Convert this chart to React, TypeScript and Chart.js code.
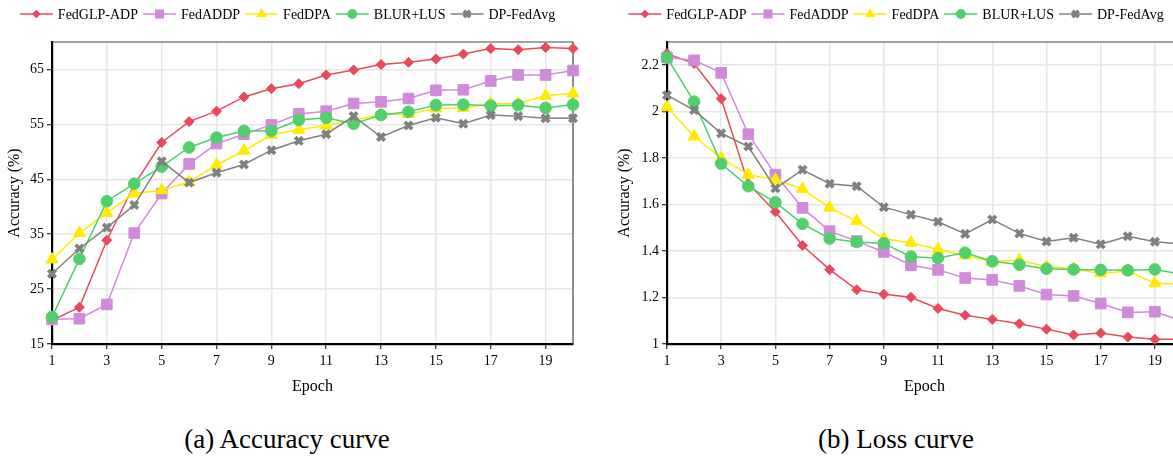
import React, { useEffect, useRef } from 'react';
import { Chart, registerables } from 'chart.js';

Chart.register(...registerables);

const FONT = '"Liberation Serif", "Times New Roman", serif';
Chart.defaults.font.family = FONT;

const epochs = [1, 2, 3, 4, 5, 6, 7, 8, 9, 10, 11, 12, 13, 14, 15, 16, 17, 18, 19, 20];
const xTickValues = [1, 3, 5, 7, 9, 11, 13, 15, 17, 19];
const accTickValues = [15, 25, 35, 45, 55, 65];
const lossTickValues = [1, 1.2, 1.4, 1.6, 1.8, 2, 2.2];

const seriesNames = ['FedGLP-ADP', 'FedADDP', 'FedDPA', 'BLUR+LUS', 'DP-FedAvg'];

// Accuracy (%)
const accFedGLP = [19.3, 21.7, 33.9, 44.0, 51.7, 55.5, 57.4, 60.0, 61.5, 62.4, 64.0, 64.9, 65.9, 66.3, 66.9, 67.8, 68.8, 68.6, 69.0, 68.8];
const accFedADDP = [19.5, 19.6, 22.2, 35.2, 42.4, 47.8, 51.5, 53.2, 54.9, 56.9, 57.4, 58.8, 59.1, 59.7, 61.2, 61.3, 62.9, 64.0, 64.0, 64.8];
const accFedDPA = [30.4, 35.2, 38.9, 42.4, 43.0, 44.5, 47.6, 50.2, 53.1, 54.0, 54.8, 55.8, 56.8, 56.9, 57.9, 58.0, 58.8, 58.8, 60.2, 60.6];
const accBLUR = [19.9, 30.5, 41.0, 44.2, 47.3, 50.8, 52.6, 53.8, 53.8, 55.8, 56.2, 55.1, 56.7, 57.3, 58.5, 58.6, 58.4, 58.5, 58.0, 58.6];
const accDPFedAvg = [27.8, 32.4, 36.2, 40.3, 48.3, 44.4, 46.2, 47.7, 50.3, 52.0, 53.2, 56.5, 52.7, 54.8, 56.2, 55.1, 56.7, 56.5, 56.1, 56.1];

// Loss
const lossFedGLP = [2.25, 2.207, 2.056, 1.69, 1.569, 1.424, 1.32, 1.234, 1.214, 1.201, 1.153, 1.124, 1.106, 1.087, 1.064, 1.039, 1.047, 1.03, 1.02, 1.02];
const lossFedADDP = [2.233, 2.221, 2.167, 1.903, 1.729, 1.586, 1.486, 1.443, 1.396, 1.339, 1.319, 1.284, 1.276, 1.25, 1.213, 1.207, 1.174, 1.136, 1.139, 1.1];
const lossFedDPA = [2.019, 1.893, 1.8, 1.729, 1.707, 1.667, 1.587, 1.529, 1.453, 1.436, 1.407, 1.381, 1.354, 1.361, 1.333, 1.324, 1.304, 1.314, 1.261, 1.257];
const lossBLUR = [2.233, 2.043, 1.776, 1.679, 1.61, 1.517, 1.454, 1.439, 1.433, 1.376, 1.37, 1.393, 1.356, 1.341, 1.324, 1.321, 1.319, 1.317, 1.321, 1.3];
const lossDPFedAvg = [2.071, 2.007, 1.907, 1.85, 1.67, 1.75, 1.69, 1.679, 1.589, 1.557, 1.526, 1.474, 1.536, 1.476, 1.441, 1.457, 1.429, 1.464, 1.44, 1.43];

const accSeries = [accFedGLP, accFedADDP, accFedDPA, accBLUR, accDPFedAvg];
const lossSeries = [lossFedGLP, lossFedADDP, lossFedDPA, lossBLUR, lossDPFedAvg];

const colors = ['#E8495C', '#D18ADB', '#FFEA00', '#4FD06A', '#808080'];
const pointStyles = ['rectRot', 'rect', 'triangle', 'circle', 'crossRot'];
const pointRadii = [5, 7.5, 7, 5.8, 5.2];
const pointBorderWidths = [1, 1, 1, 1, 3.8];

function drawMarker(ctx: CanvasRenderingContext2D, style: string, x: number, y: number, r: number, color: string, bw: number) {
  ctx.save();
  ctx.fillStyle = color;
  ctx.strokeStyle = color;
  ctx.lineWidth = bw;
  ctx.beginPath();
  if (style === 'rectRot') {
    ctx.moveTo(x, y - r);
    ctx.lineTo(x + r, y);
    ctx.lineTo(x, y + r);
    ctx.lineTo(x - r, y);
    ctx.closePath();
    ctx.fill();
  } else if (style === 'rect') {
    const s = r * Math.SQRT1_2;
    ctx.rect(x - s, y - s, 2 * s, 2 * s);
    ctx.fill();
  } else if (style === 'triangle') {
    for (let k = 0; k < 3; k++) {
      const a = (k * 2 * Math.PI) / 3;
      const px = x + Math.sin(a) * r;
      const py = y - Math.cos(a) * r;
      if (k === 0) ctx.moveTo(px, py);
      else ctx.lineTo(px, py);
    }
    ctx.closePath();
    ctx.fill();
  } else if (style === 'circle') {
    ctx.arc(x, y, r, 0, Math.PI * 2);
    ctx.fill();
  } else if (style === 'crossRot') {
    const d = r * Math.SQRT1_2;
    ctx.moveTo(x - d, y - d);
    ctx.lineTo(x + d, y + d);
    ctx.moveTo(x + d, y - d);
    ctx.lineTo(x - d, y + d);
    ctx.stroke();
  }
  ctx.restore();
}

const legendPlugin = {
  id: 'customLegend',
  afterDraw(chart: any, _args: any, opts: any) {
    const ctx = chart.ctx as CanvasRenderingContext2D;
    ctx.save();
    ctx.font = `14px ${FONT}`;
    ctx.textBaseline = 'middle';
    ctx.textAlign = 'left';
    const lineLen = 33;
    const gapLT = 5;
    const gapItem = 5;
    const widths = seriesNames.map((n) => ctx.measureText(n).width);
    const total = widths.reduce((a, w) => a + lineLen + gapLT + w, 0) + gapItem * (seriesNames.length - 1);
    let x = opts.cx - total / 2;
    const y = 14;
    seriesNames.forEach((name, i) => {
      ctx.strokeStyle = colors[i];
      ctx.lineWidth = 1.5;
      ctx.beginPath();
      ctx.moveTo(x, y);
      ctx.lineTo(x + lineLen, y);
      ctx.stroke();
      drawMarker(ctx, pointStyles[i], x + lineLen / 2, y, pointRadii[i] * 0.85, colors[i], pointBorderWidths[i]);
      ctx.fillStyle = '#000';
      ctx.fillText(name, x + lineLen + gapLT, y + 1);
      x += lineLen + gapLT + widths[i] + gapItem;
    });
    ctx.restore();
  },
};

const framePlugin = {
  id: 'frame',
  beforeDatasetsDraw(chart: any) {
    const { ctx, chartArea } = chart;
    ctx.save();
    ctx.strokeStyle = '#444';
    ctx.lineWidth = 1.2;
    ctx.beginPath();
    ctx.moveTo(chartArea.left, chartArea.top);
    ctx.lineTo(chartArea.right, chartArea.top);
    ctx.lineTo(chartArea.right, chartArea.bottom);
    ctx.stroke();
    ctx.restore();
  },
};

type Cfg = {
  series: number[][];
  yMin: number;
  yMax: number;
  yTicks: number[];
  legendCx: number;
  yAxisWidth: number;
  padRight: number;
};

function makeConfig(c: Cfg): any {
  return {
    type: 'line',
    data: {
      datasets: c.series.map((d, i) => ({
        label: seriesNames[i],
        data: epochs.map((e, j) => ({ x: e, y: d[j] })),
        borderColor: colors[i],
        backgroundColor: colors[i],
        borderWidth: 1.5,
        pointStyle: pointStyles[i],
        pointRadius: pointRadii[i],
        pointBorderWidth: pointBorderWidths[i],
        pointBorderColor: colors[i],
        pointBackgroundColor: colors[i],
        tension: 0,
        clip: false,
        order: seriesNames.length - i,
      })),
    },
    options: {
      responsive: false,
      animation: false,
      events: [],
      layout: { padding: { top: 42, right: c.padRight, left: 0, bottom: 0 } },
      plugins: {
        legend: { display: false },
        tooltip: { enabled: false },
        customLegend: { cx: c.legendCx },
      },
      scales: {
        x: {
          type: 'linear',
          min: 1,
          max: 20,
          afterBuildTicks: (s: any) => {
            s.ticks = xTickValues.map((v) => ({ value: v }));
          },
          afterFit: (s: any) => {
            s.height = 56;
          },
          ticks: {
            autoSkip: false,
            maxRotation: 0,
            padding: 4,
            color: '#000',
            font: { family: FONT, size: 14 },
            callback: (v: any) => String(v),
          },
          grid: { color: '#e6e6e6', lineWidth: 1.5, drawTicks: true, tickLength: 5, tickColor: '#000', tickWidth: 1 },
          border: { display: true, color: '#000', width: 2.2 },
          title: {
            display: true,
            text: 'Epoch',
            color: '#000',
            font: { family: FONT, size: 16 },
            padding: { top: 0, bottom: 4 },
          },
        },
        y: {
          type: 'linear',
          min: c.yMin,
          max: c.yMax,
          afterBuildTicks: (s: any) => {
            s.ticks = c.yTicks.map((v) => ({ value: v }));
          },
          afterFit: (s: any) => {
            s.width = c.yAxisWidth;
          },
          ticks: {
            autoSkip: false,
            padding: 3,
            color: '#000',
            font: { family: FONT, size: 14 },
            callback: (v: any) => String(Math.round(v * 10) / 10),
          },
          grid: { color: '#e6e6e6', lineWidth: 1.5, drawTicks: true, tickLength: 5, tickColor: '#000', tickWidth: 1 },
          border: { display: true, color: '#000', width: 2.2 },
          title: {
            display: true,
            text: 'Accuracy (%)',
            color: '#000',
            font: { family: FONT, size: 16 },
            padding: { top: 5.5, bottom: 0 },
          },
        },
      },
    },
    plugins: [framePlugin, legendPlugin],
  };
}

function ChartCanvas({ cfg, width, height, left }: { cfg: Cfg; width: number; height: number; left: number }) {
  const ref = useRef<HTMLCanvasElement | null>(null);
  useEffect(() => {
    if (!ref.current) return;
    const chart = new Chart(ref.current, makeConfig(cfg));
    return () => chart.destroy();
  }, []);
  return (
    <canvas
      ref={ref}
      width={width}
      height={height}
      style={{ position: 'absolute', left, top: 0, width, height, display: 'block' }}
    />
  );
}

const captionStyle: React.CSSProperties = {
  position: 'absolute',
  width: 400,
  top: 424,
  textAlign: 'center',
  fontFamily: FONT,
  fontSize: 27,
  lineHeight: '30px',
  color: '#000',
};

export default function App() {
  return (
    <div
      style={{
        position: 'absolute',
        left: 0,
        top: 0,
        width: 1173,
        height: 458,
        overflow: 'hidden',
        background: '#fff',
        fontFamily: FONT,
      }}
    >
      <ChartCanvas
        left={0}
        width={590}
        height={400}
        cfg={{ series: accSeries, yMin: 15, yMax: 70, yTicks: accTickValues, legendCx: 287.5, yAxisWidth: 52, padRight: 17 }}
      />
      <ChartCanvas
        left={610}
        width={582}
        height={400}
        cfg={{ series: lossSeries, yMin: 1, yMax: 2.3, yTicks: lossTickValues, legendCx: 286, yAxisWidth: 57, padRight: 10 }}
      />
      <div style={{ ...captionStyle, left: 87 }}>(a) Accuracy curve</div>
      <div style={{ ...captionStyle, left: 696 }}>(b) Loss curve</div>
    </div>
  );
}
